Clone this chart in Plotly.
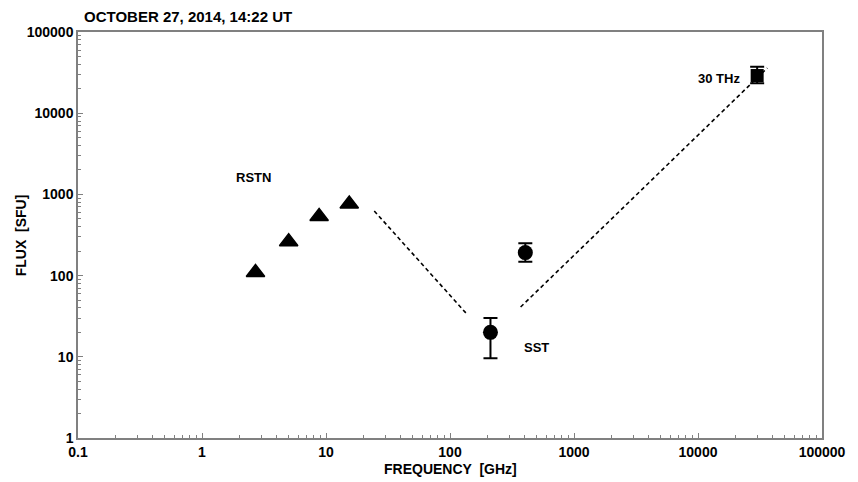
import numpy as np
import plotly.graph_objects as go

# ---- data ----
rstn_freq = [2.7, 5.0, 8.8, 15.4]          # GHz
rstn_flux = [109, 262, 536, 762]            # SFU

sst_freq = [212, 405]
sst_flux = [20, 192]
sst_err_plus = [10, 58]
sst_err_minus = [10.4, 44]

thz_freq = [30000]
thz_flux = [29100]
thz_err_plus = [8300]
thz_err_minus = [5800]

fit1_freq = [24.5, 139]
fit1_flux = [625, 32.7]
fit2_freq = [371, 36200]
fit2_flux = [41, 36000]

label_text = ["RSTN", "SST", "30 THz"]
label_freq = [2.58, 499, 14900]
label_flux = [1637, 13.2, 27100]

x_tick_vals = [0.1, 1, 10, 100, 1000, 10000, 100000]
x_tick_text = ["0.1", "1", "10", "100", "1000", "10000", "100000"]
y_tick_vals = [1, 10, 100, 1000, 10000, 100000]
y_tick_text = ["1", "10", "100", "1000", "10000", "100000"]

title_text = "OCTOBER 27, 2014, 14:22 UT"
x_title = "FREQUENCY  [GHz]"
y_title = "FLUX  [SFU]"

FONT = "Liberation Sans, Arial, sans-serif"
AXC = "#808080"


def minor_vals(decades):
    return [m * d for d in decades[:-1] for m in range(2, 10)]


fig = go.Figure()

dash = dict(color="black", width=1.6, dash="4px,3px")
fig.add_trace(go.Scatter(x=fit1_freq, y=fit1_flux, mode="lines", line=dash, showlegend=False))
fig.add_trace(go.Scatter(x=fit2_freq, y=fit2_flux, mode="lines", line=dash, showlegend=False))

fig.add_trace(go.Scatter(x=rstn_freq, y=rstn_flux, mode="markers",
                         marker=dict(symbol="triangle-up", size=16, color="black",
                                     line=dict(color="black", width=1.5)),
                         showlegend=False))

fig.add_trace(go.Scatter(x=sst_freq, y=sst_flux, mode="markers",
                         marker=dict(symbol="circle", size=15, color="black"),
                         error_y=dict(type="data", array=sst_err_plus, arrayminus=sst_err_minus,
                                      color="black", thickness=2, width=7),
                         showlegend=False))

fig.add_trace(go.Scatter(x=thz_freq, y=thz_flux, mode="markers",
                         marker=dict(symbol="square", size=13, color="black"),
                         error_y=dict(type="data", array=thz_err_plus, arrayminus=thz_err_minus,
                                      color="black", thickness=2, width=7),
                         showlegend=False))

for t, fx, fy in zip(label_text, label_freq, label_flux):
    fig.add_annotation(x=np.log10(fx), y=np.log10(fy), xref="x", yref="y", text=t,
                       showarrow=False, font=dict(family=FONT, size=13, color="black", weight="bold"))

fig.add_annotation(x=0.005, y=1.0394, xref="paper", yref="paper", text=title_text,
                   xanchor="left", yanchor="middle", showarrow=False,
                   font=dict(family=FONT, size=15, color="black", weight="bold"))
fig.add_annotation(x=0.5, y=-0.0764, xref="paper", yref="paper", text=x_title,
                   xanchor="center", yanchor="middle", showarrow=False,
                   font=dict(family=FONT, size=14, color="black", weight="bold"))
fig.add_annotation(x=-0.0762, y=0.5, xref="paper", yref="paper", text=y_title, textangle=-90,
                   xanchor="center", yanchor="middle", showarrow=False,
                   font=dict(family=FONT, size=14, color="black", weight="bold"))

axis_common = dict(type="log", showgrid=False, zeroline=False,
                   showline=True, linecolor=AXC, linewidth=1.5, mirror=True,
                   ticks="inside", ticklen=5, tickwidth=1, tickcolor=AXC,
                   tickfont=dict(family=FONT, size=14, color="black", weight="bold"))

fig.update_xaxes(range=[-1, 5], tickmode="array", tickvals=x_tick_vals, ticktext=x_tick_text,
                 minor=dict(ticks="inside", ticklen=3, tickwidth=1, tickcolor=AXC,
                            tickmode="array", tickvals=minor_vals(x_tick_vals), showgrid=False),
                 **axis_common)
fig.update_yaxes(range=[0, 5], tickmode="array", tickvals=y_tick_vals, ticktext=y_tick_text,
                 minor=dict(ticks="inside", ticklen=3, tickwidth=1, tickcolor=AXC,
                            tickmode="array", tickvals=minor_vals(y_tick_vals), showgrid=False),
                 **axis_common)

fig.update_layout(width=858, height=482, margin=dict(l=78, r=32, t=32, b=44),
                  paper_bgcolor="white", plot_bgcolor="white", showlegend=False)

fig.write_html("out.html")
